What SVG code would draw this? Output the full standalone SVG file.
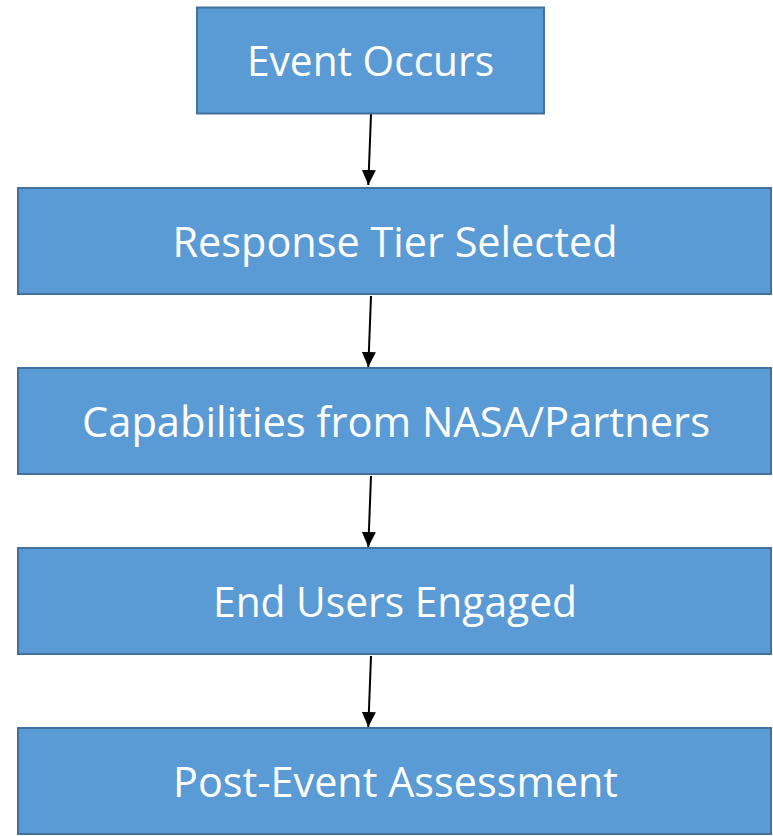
<svg xmlns="http://www.w3.org/2000/svg" width="773" height="836" viewBox="0 0 773 836">
  <style>
    .box { fill: #5B9BD5; stroke: #41719C; stroke-width: 2; }
    .label { fill: #FFFFFF; font-family: "Open Sans", "Liberation Sans", sans-serif; font-size: 42px; text-anchor: middle; }
    .flow { stroke: #000000; stroke-width: 2; fill: none; marker-end: url(#arrowhead); }
  </style>
  <defs>
    <marker id="arrowhead" markerUnits="userSpaceOnUse" viewBox="0 0 15 14" refX="15" refY="7" markerWidth="15" markerHeight="14" orient="auto">
      <path d="M0,0 L15,7 L0,14 Z" fill="#000000"/>
    </marker>
  </defs>
  <rect width="773" height="836" fill="#FFFFFF"/>

  <g id="connectors">
    <line class="flow" x1="371" y1="114" x2="368.3" y2="185"/>
    <line class="flow" x1="371" y1="296" x2="368.3" y2="367"/>
    <line class="flow" x1="371" y1="476" x2="368.3" y2="547"/>
    <line class="flow" x1="371" y1="656" x2="368.3" y2="727"/>
  </g>

  <g id="event-occurs">
    <rect class="box" x="197" y="7.5" width="347" height="106"/>
    <text class="label" x="370.5" y="76" textLength="247" lengthAdjust="spacingAndGlyphs">Event Occurs</text>
  </g>

  <g id="response-tier-selected">
    <rect class="box" x="18" y="188" width="753" height="106"/>
    <text class="label" x="395" y="257" textLength="445" lengthAdjust="spacingAndGlyphs">Response Tier Selected</text>
  </g>

  <g id="capabilities">
    <rect class="box" x="18" y="368" width="753" height="106"/>
    <text class="label" x="396" y="437" textLength="628" lengthAdjust="spacingAndGlyphs">Capabilities from NASA/Partners</text>
  </g>

  <g id="end-users-engaged">
    <rect class="box" x="18" y="548" width="753" height="106"/>
    <text class="label" x="395" y="617" textLength="364" lengthAdjust="spacingAndGlyphs">End Users Engaged</text>
  </g>

  <g id="post-event-assessment">
    <rect class="box" x="18" y="728" width="753" height="106"/>
    <text class="label" x="395.5" y="797" textLength="445" lengthAdjust="spacingAndGlyphs">Post-Event Assessment</text>
  </g>
</svg>
